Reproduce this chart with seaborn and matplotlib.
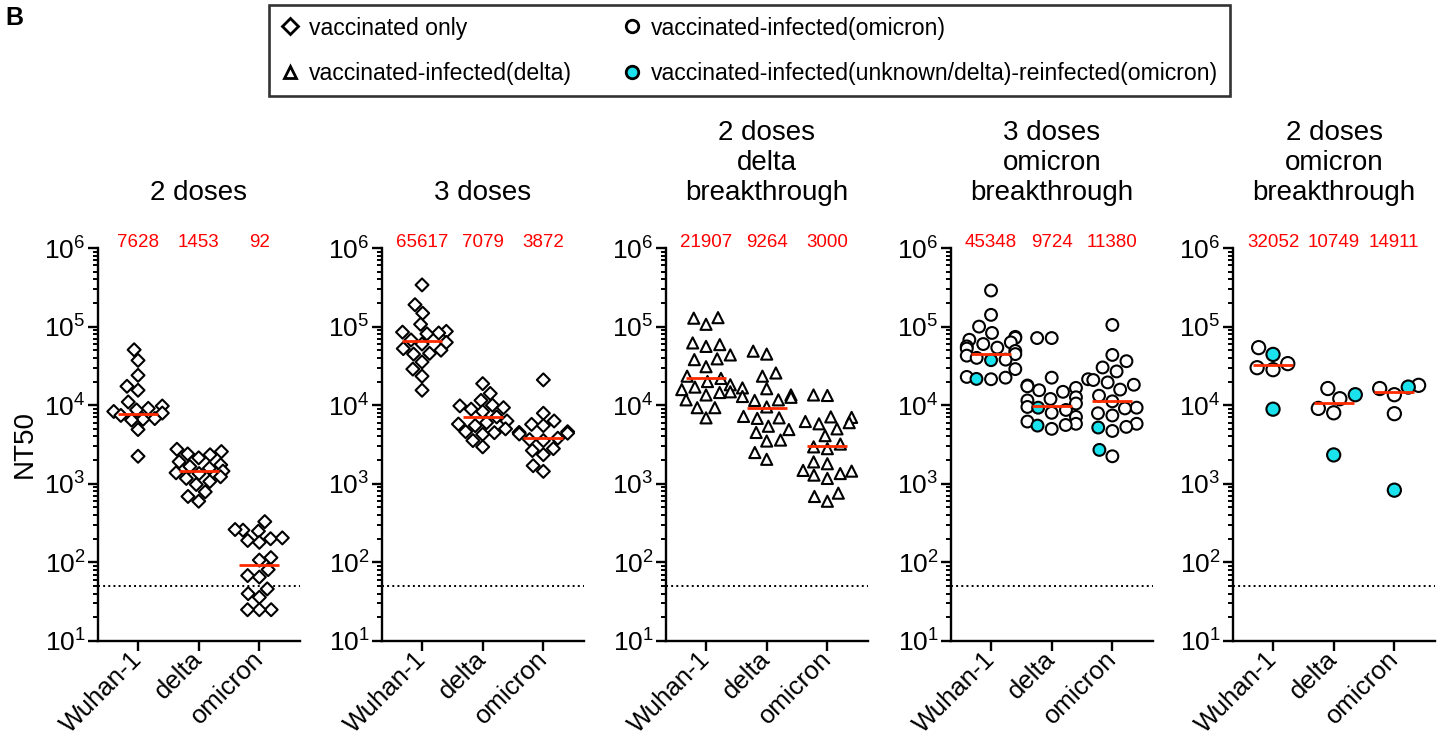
import numpy as np
import pandas as pd
import matplotlib
matplotlib.use('Agg')
import matplotlib.pyplot as plt
import matplotlib.transforms as mtransforms
from matplotlib.lines import Line2D
import seaborn as sns

variants = ['Wuhan-1', 'delta', 'omicron']

titles = ['2 doses', '3 doses', '2 doses\ndelta\nbreakthrough',
          '3 doses\nomicron\nbreakthrough', '2 doses\nomicron\nbreakthrough']
markers = ['D', 'D', '^', 'o', 'o']
msizes = [6.6, 6.6, 8, 8.5, 9.5]

# NT50 values, one dict per panel
two_doses = {
    'Wuhan-1': [50700, 37150, 24000, 17400, 15500, 11000, 9770, 9120, 8710, 8320,
                7940, 7410, 6760, 6610, 6460, 4900, 2240],
    'delta': [2750, 2570, 2400, 2340, 2140, 1910, 1740, 1660, 1580, 1450, 1380,
              1350, 1230, 1170, 1070, 980, 790, 690, 600],
    'omicron': [330, 257, 250, 262, 200, 205, 190, 180, 115, 107, 81, 68, 65,
                46, 40, 36, 25, 25, 25],
}
three_doses = {
    'Wuhan-1': [339000, 190000, 148000, 107000, 87000, 85000, 83000, 81000, 67600,
                63000, 60000, 52500, 50100, 45700, 44700, 35500, 28800, 23400, 15500],
    'delta': [18800, 14100, 11500, 10000, 9800, 9300, 8900, 8300, 7100, 6300, 6000,
              5750, 5500, 5000, 4600, 4470, 4270, 3550, 2950],
    'omicron': [21000, 7900, 6300, 5700, 5500, 4600, 4500, 4400, 4300, 3800, 3650,
                3550, 2800, 2650, 2350, 1700, 1440],
}
delta_bt = {
    'Wuhan-1': [130000, 128000, 107000, 62000, 59000, 56000, 43600, 38900, 38000,
                30900, 23400, 21900, 20000, 18200, 17000, 15800, 14800, 14500, 13500,
                11700, 9300, 9300, 6900],
    'delta': [48700, 44700, 25700, 23400, 16600, 16200, 13500, 12900, 12600, 11700,
              11500, 9500, 7200, 6900, 6800, 5400, 4900, 4500, 3600, 3500, 2500, 2050],
    'omicron': [13500, 13300, 7100, 7000, 6200, 6000, 5800, 5000, 4100, 3200, 2950,
                2800, 1900, 1800, 1480, 1450, 1350, 1290, 1170, 760, 690, 600],
}
omi3_bt = {
    'Wuhan-1': [288000, 141000, 100000, 83000, 74000, 72000, 68000, 63000, 60000,
                56000, 54000, 52500, 49000, 44700, 42700, 40000, 38000, 28800, 22900,
                22400, 21400],
    'delta': [71500, 71500, 22400, 17800, 17400, 16600, 15500, 14800, 12600, 12000,
              11500, 10500, 9500, 8700, 8000, 7100, 6200, 5800, 5600, 5000],
    'omicron': [105000, 43600, 36300, 30200, 26900, 21400, 20900, 19500, 18200, 15800,
                13200, 11200, 9300, 9100, 7900, 7400, 5800, 5300, 4700, 2240],
}
omi3_reinf = {'Wuhan-1': [37400, 21600], 'delta': [9300, 5500], 'omicron': [5200, 2700]}
omi2_bt = {
    'Wuhan-1': [54000, 33800, 28300, 30000],
    'delta': [16300, 12100, 9100, 8000],
    'omicron': [17900, 16300, 13600, 7800],
}
omi2_reinf = {'Wuhan-1': [44300, 8900], 'delta': [13600, 2330], 'omicron': [17000, 830]}

gmt = [[7628, 1453, 92], [65617, 7079, 3872], [21907, 9264, 3000],
       [45348, 9724, 11380], [32052, 10749, 14911]]

panels = [(two_doses, None), (three_doses, None), (delta_bt, None),
          (omi3_bt, omi3_reinf), (omi2_bt, omi2_reinf)]

cyan = '#1BE3EE'
red_line = '#FF2A00'

sns.set_style('ticks')
plt.rcParams['font.family'] = ['Liberation Sans', 'DejaVu Sans']
plt.rcParams['axes.linewidth'] = 1.7
for key in ['text.color', 'axes.labelcolor', 'xtick.color', 'ytick.color',
            'axes.edgecolor']:
    plt.rcParams[key] = 'black'

W, H = 1453, 743
fig = plt.figure(figsize=(W / 100, H / 100), dpi=100)

lefts = [98, 382, 666, 951, 1233]
for k, (main, reinf) in enumerate(panels):
    rows = []
    for v in variants:
        for val in main[v]:
            rows.append((v, val, 'plain'))
        if reinf is not None:
            for val in reinf[v]:
                rows.append((v, val, 'reinf'))
    df = pd.DataFrame(rows, columns=['variant', 'nt50', 'group'])

    ax = fig.add_axes([lefts[k] / W, 1 - 641 / H, 202 / W, 393 / H])
    ax.set_yscale('log')
    ax.set_ylim(10, 1e6)
    sns.swarmplot(data=df, x='variant', y='nt50', hue='group', order=variants,
                  hue_order=['plain', 'reinf'],
                  palette={'plain': 'white', 'reinf': cyan}, marker=markers[k],
                  size=msizes[k], edgecolor='black', linewidth=1.5,
                  legend=False, ax=ax, zorder=3, warn_thresh=1)
    ax.set_xlim(-0.66, 2.67)
    ax.set_ylim(10, 1e6)
    ax.axhline(50, color='black', ls=':', lw=1.4, zorder=1)
    for i, g in enumerate(gmt[k]):
        ax.hlines(g, i - 0.33, i + 0.33, color=red_line, lw=2, zorder=5)
    trans = mtransforms.blended_transform_factory(ax.transData, ax.transAxes)
    for i, g in enumerate(gmt[k]):
        ax.text(i, 1.013, str(g), transform=trans, ha='center', va='center',
                color='red', fontsize=13.5)
    ax.text(0.5, 1.107, titles[k], transform=ax.transAxes, ha='center',
            va='bottom', fontsize=20)
    ax.set_xlabel('')
    ax.set_ylabel('')
    sns.despine(ax=ax)
    ax.tick_params(axis='y', which='major', length=7, width=1.7, labelsize=19, pad=2)
    ax.tick_params(axis='y', which='minor', length=3.5, width=1.4)
    ax.tick_params(axis='x', length=7, width=1.7, labelsize=18.5)
    for lab in ax.get_xticklabels():
        lab.set_rotation(45)
        lab.set_ha('right')
        lab.set_va('center')
        lab.set_rotation_mode('anchor')

fig.text(25 / W, 1 - 444 / H, 'NT50', rotation=90, ha='center', va='center',
         fontsize=20)
fig.text(14 / W, 1 - 18 / H, 'B', ha='center', va='center', fontsize=18,
         fontweight='bold')

handles = [
    Line2D([], [], ls='', marker='D', ms=8, mfc='white', mec='black', mew=2),
    Line2D([], [], ls='', marker='^', ms=9, mfc='white', mec='black', mew=2),
    Line2D([], [], ls='', marker='o', ms=9, mfc='white', mec='black', mew=2),
    Line2D([], [], ls='', marker='o', ms=9, mfc=cyan, mec='black', mew=2),
]
labels = ['vaccinated only', 'vaccinated-infected(delta)',
          'vaccinated-infected(omicron)',
          'vaccinated-infected(unknown/delta)-reinfected(omicron)']
leg = fig.legend(handles, labels, ncol=2, loc='upper left',
                 bbox_to_anchor=(269 / W, 1 - 5 / H), fontsize=16.6,
                 frameon=True, fancybox=False, edgecolor='black',
                 handlelength=0.8, handletextpad=0.45, columnspacing=2.17,
                 labelspacing=0.97, borderpad=0.5, borderaxespad=0)
leg.get_frame().set_linewidth(1.9)

fig.savefig('out.png', dpi=100)
